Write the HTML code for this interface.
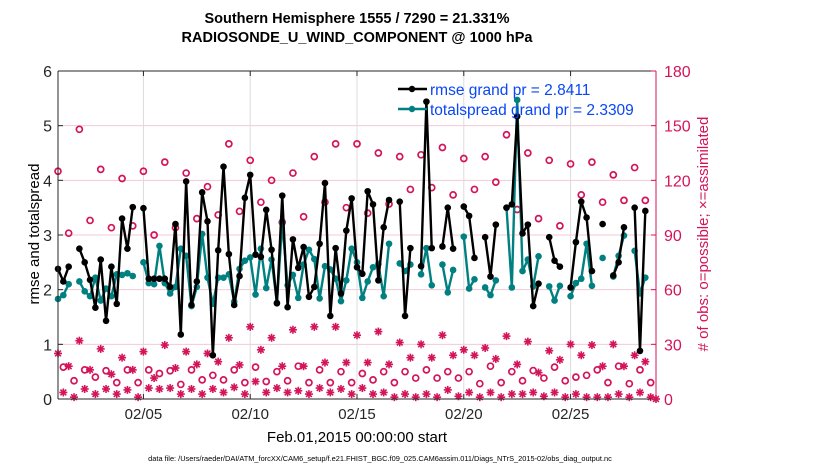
<!DOCTYPE html>
<html><head><meta charset="utf-8"><style>
body{margin:0;background:#fff;}
svg text{font-family:"Liberation Sans",sans-serif;}
</style></head><body>
<svg id="chart" width="830" height="470" xmlns="http://www.w3.org/2000/svg">
<rect width="830" height="470" fill="#fff"/>
<g id="grid"></g>
<g id="obs"></g>
<g id="lines"></g>
<g id="axes"></g>
<text x="357" y="23" text-anchor="middle" font-size="14.5" font-weight="bold">Southern Hemisphere 1555 / 7290 = 21.331%</text>
<text x="357" y="42" text-anchor="middle" font-size="14.5" font-weight="bold">RADIOSONDE_U_WIND_COMPONENT @ 1000 hPa</text>
<text transform="translate(39,234) rotate(-90)" text-anchor="middle" font-size="15">rmse and totalspread</text>
<text transform="translate(708,234) rotate(-90)" text-anchor="middle" font-size="15" fill="#d4145a"># of obs: o=possible; ×=assimilated</text>
<text x="357" y="442" text-anchor="middle" font-size="15">Feb.01,2015 00:00:00 start</text>
<text x="380" y="461" text-anchor="middle" font-size="7.4">data file: /Users/raeder/DAI/ATM_forcXX/CAM6_setup/f.e21.FHIST_BGC.f09_025.CAM6assim.011/Diags_NTrS_2015-02/obs_diag_output.nc</text>
<g id="legend">
<line x1="398" y1="89" x2="427" y2="89" stroke="#000" stroke-width="2.5"/>
<circle cx="412" cy="89" r="3.2" fill="#000"/>
<text x="430" y="95" font-size="15.5" fill="#0a46f5">rmse grand pr = 2.8411</text>
<line x1="398" y1="109" x2="427" y2="109" stroke="#008080" stroke-width="2.5"/>
<circle cx="412" cy="109" r="3.2" fill="#008080"/>
<text x="430" y="115" font-size="15.5" fill="#0a46f5">totalspread grand pr = 2.3309</text>
</g>
</svg>
<script>
const N = null;
const rmse = [2.38,2.15,2.42,N,2.75,2.5,2.18,1.67,2.55,1.43,2.42,1.74,3.3,2.75,3.51,N,3.49,2.2,2.2,2.2,2.2,2.05,3.2,1.18,3.98,1.72,2.15,3.78,3.25,0.8,2.72,4.25,2.65,1.72,2.25,3.68,4.1,2.64,2.6,3.46,2.73,1.75,3.72,1.68,2.92,2.4,2.78,1.87,2.05,2.84,3.95,1.52,2.76,1.93,3.08,3.67,2.41,2.29,3.8,3.56,2.17,3.14,3.64,N,3.61,1.52,2.76,N,2.43,5.44,2.76,N,2.79,3.5,2.75,N,3.52,3.35,2.58,N,2.96,2.24,3.19,N,3.5,3.56,5.17,3.03,3.19,1.7,2.11,N,2.96,2.53,2.42,N,2.04,2.87,3.61,3.32,2.34,N,3.2,N,2.26,2.5,3.14,N,3.5,0.88,3.44];
const spread = [1.83,1.9,2.1,N,2.15,1.97,1.88,2.22,1.8,2.02,1.88,2.28,2.27,2.3,2.25,N,2.5,2.12,2.1,2.8,2.12,1.93,2.05,2.75,2.62,1.7,2.05,3.02,2.22,1.74,2.22,2.22,2.28,1.78,2.38,2.53,2.59,1.91,2.75,2.03,2.55,1.76,3.22,2.08,2.27,1.85,2.46,2.73,2.56,1.84,2.43,2.37,2.2,1.79,2.17,2.75,2.5,1.85,2.15,2.41,2.47,1.88,2.84,N,2.48,2.34,2.46,N,2.28,2.76,2.08,N,2.46,1.95,2.36,N,2.97,2.02,2.19,N,2.04,1.9,2.17,N,3.5,2.04,5.47,2.34,2.55,2.06,2.61,N,2.06,1.8,2.07,N,1.88,2.12,2.2,2.84,2.07,N,2.58,N,2.24,2.62,2.99,N,2.71,1.93,2.22];
const possible = [125,17.5,91,10,148,16,98,12,126,15.5,94,9,121,16,95,9,125,16,90,14,130,15.5,94,8,124,16,99,10.5,116.5,13,101,10.5,140,16,103,9,131,17.5,108,9.6,120,15,97,10,124,18,100,9,133,16,108,9,140,15,105,9,140,14,102,10.5,135,15,107,9,133,15,115,11.5,134,16,116,11.5,138,15,112,11.5,132,15,115,8.4,133,18,119,9,145,15,104,10,135,15.6,99,11.5,131,17.5,95,10,129,12,112,13,130,16,108,9,123,18,109,8.4,127,16,109,9];
const assimilated = [25,3.6,18,1,32,5.5,16,2.7,27.5,5.5,13.6,2.7,22.7,5,16,1,26,6,11.5,5.5,29.6,6,17,2.7,26,5.5,19,2.7,25,5.5,20.5,3.6,33.6,6.4,18.7,2.7,39.6,9.6,27,3.6,33.6,6,18,3.6,38,4.5,18,2.7,39.6,6,20,3.6,39.6,5.5,20,2.7,35,6,20,2.7,37,3.6,19,1,31,2.7,22.7,1,30,2.7,22.7,1,35,5,24,1.5,27,3.6,24,1,28,3.6,22,1,34.5,2.7,19,2.7,31.5,3.6,14.5,1.5,26.5,3.6,21.5,1,30,2.7,24,1,29.6,1,18,1,30,2.7,18,1,24,3.6,20.5,1,0];
const dateTicks = [4,9,14,19,24];
const dateLabels = ["02/05","02/10","02/15","02/20","02/25"];
const leftTicks = [0,1,2,3,4,5,6];
const rightTicks = [0,30,60,90,120,150,180];

const X0=58, X1=656, Y0=399, Y1=71, TMAX=28;
const RED="#d4145a", TEAL="#008080";
const sx = t => X0 + t/TMAX*(X1-X0);
const sy = v => Y0 - v/6*(Y0-Y1);
const sr = v => Y0 - v/180*(Y0-Y1);
const NS="http://www.w3.org/2000/svg";
function mk(tag, attrs, parent){const e=document.createElementNS(NS,tag);for(const k in attrs)e.setAttribute(k,attrs[k]);parent.appendChild(e);return e;}
const grid=document.getElementById('grid'), obs=document.getElementById('obs'), lines=document.getElementById('lines'), axes=document.getElementById('axes');

leftTicks.forEach(v=>{ if(v>0&&v<6){const l=mk('line',{x1:X0,x2:X1,y1:sy(v),y2:sy(v),stroke:'#f3c9d6','stroke-width':1},grid);

}});
dateTicks.forEach(d=>{const l=mk('line',{x1:sx(d),x2:sx(d),y1:Y1,y2:Y0,stroke:'#dcdcdc','stroke-width':1},grid);

});

possible.forEach((v,i)=>{ if(v===null) return; const c=mk('circle',{cx:sx(i*0.25),cy:sr(v),r:3,fill:'none',stroke:RED,'stroke-width':1.7},obs);

});
assimilated.forEach((v,i)=>{ if(v===null) return; const cx=sx(i*0.25), cy=sr(v), r=4;
const g=mk('g',{stroke:RED,'stroke-width':1.6},obs);


mk('line',{x1:cx-r,x2:cx+r,y1:cy,y2:cy},g);mk('line',{x1:cx,x2:cx,y1:cy-r,y2:cy+r},g);
const d=r*0.72;mk('line',{x1:cx-d,x2:cx+d,y1:cy-d,y2:cy+d},g);mk('line',{x1:cx-d,x2:cx+d,y1:cy+d,y2:cy-d},g);});

function drawSeries(arr,color,name){
  let segs=[],cur=[];
  arr.forEach((v,i)=>{ if(v===null){ if(cur.length) segs.push(cur); cur=[]; } else cur.push([sx(i*0.25),sy(v)]); });
  if(cur.length) segs.push(cur);
  segs.forEach(s=>{ if(s.length>1){const p=mk('polyline',{points:s.map(q=>q.join(',')).join(' '),fill:'none',stroke:color,'stroke-width':2.4,'stroke-linejoin':'round'},lines);
  
  }});
  arr.forEach((v,i)=>{ if(v===null) return; const c=mk('circle',{cx:sx(i*0.25),cy:sy(v),r:3.3,fill:color},lines);
  
  });
}
drawSeries(spread,TEAL,'totalspread');
drawSeries(rmse,'#000','rmse');

let a;
a=mk('line',{x1:X0,x2:X0,y1:Y1,y2:Y0,stroke:'#262626','stroke-width':1},axes);


a=mk('line',{x1:X0,x2:X1,y1:Y1,y2:Y1,stroke:'#262626','stroke-width':1},axes);


a=mk('line',{x1:X0,x2:X1,y1:Y0,y2:Y0,stroke:'#262626','stroke-width':1},axes);


a=mk('line',{x1:X1,x2:X1,y1:Y1,y2:Y0,stroke:RED,'stroke-width':1},axes);


leftTicks.forEach(v=>{mk('line',{x1:X0,x2:X0+5,y1:sy(v),y2:sy(v),stroke:'#262626'},axes);
const t=mk('text',{x:X0-6,y:sy(v)+6,'text-anchor':'end','font-size':16,fill:'#262626'},axes);t.textContent=v;

});
rightTicks.forEach(v=>{mk('line',{x1:X1-5,x2:X1,y1:sr(v),y2:sr(v),stroke:RED},axes);
const t=mk('text',{x:X1+8,y:sr(v)+6,'font-size':16,fill:RED},axes);t.textContent=v;

});
dateTicks.forEach((d,i)=>{mk('line',{x1:sx(d),x2:sx(d),y1:Y0,y2:Y0-5,stroke:'#262626'},axes);mk('line',{x1:sx(d),x2:sx(d),y1:Y1,y2:Y1+5,stroke:'#262626'},axes);
const t=mk('text',{x:sx(d),y:Y0+20,'text-anchor':'middle','font-size':15,fill:'#262626'},axes);t.textContent=dateLabels[i];

});
</script>
</body></html>
